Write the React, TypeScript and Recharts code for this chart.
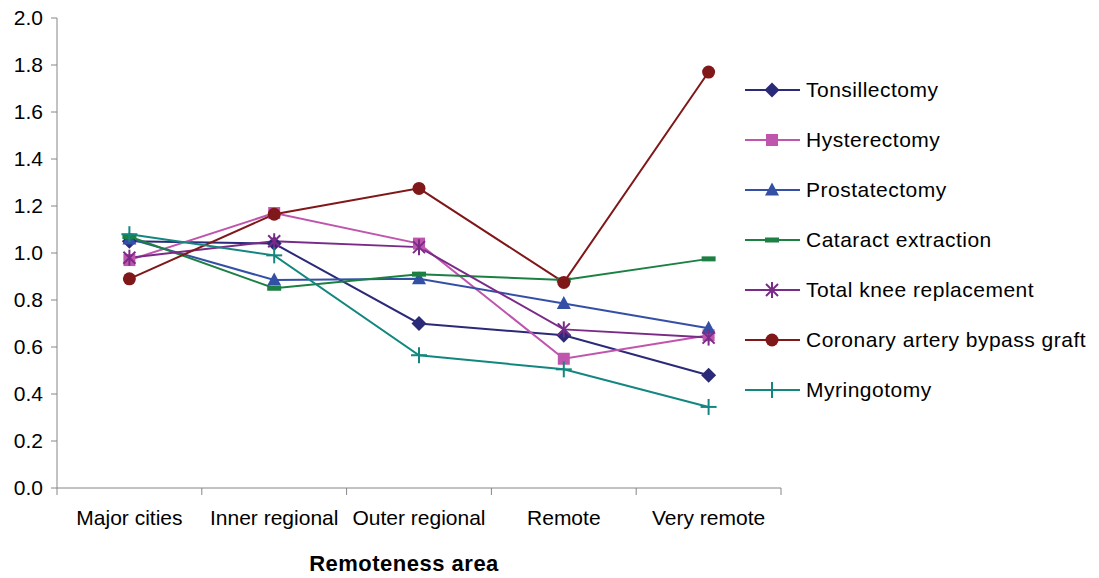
import React from "react";
import { LineChart, Line, XAxis, YAxis } from "recharts";

const categories = ["Major cities", "Inner regional", "Outer regional", "Remote", "Very remote"];
const yTicks = [0, 0.2, 0.4, 0.6, 0.8, 1.0, 1.2, 1.4, 1.6, 1.8, 2.0];

const tonsillectomy = [1.05, 1.04, 0.70, 0.65, 0.48];
const hysterectomy = [0.97, 1.17, 1.04, 0.55, 0.65];
const prostatectomy = [1.06, 0.885, 0.89, 0.785, 0.68];
const cataract = [1.07, 0.85, 0.91, 0.885, 0.975];
const totalKnee = [0.98, 1.05, 1.025, 0.675, 0.64];
const cabg = [0.89, 1.165, 1.275, 0.875, 1.77];
const myringotomy = [1.08, 0.99, 0.565, 0.505, 0.345];

type Shape = "diamond" | "square" | "triangle" | "dash" | "star" | "circle" | "plus";

const series: { key: string; name: string; color: string; shape: Shape; values: number[] }[] = [
  { key: "tonsillectomy", name: "Tonsillectomy", color: "#2B2A78", shape: "diamond", values: tonsillectomy },
  { key: "hysterectomy", name: "Hysterectomy", color: "#C055AE", shape: "square", values: hysterectomy },
  { key: "prostatectomy", name: "Prostatectomy", color: "#3350A6", shape: "triangle", values: prostatectomy },
  { key: "cataract", name: "Cataract extraction", color: "#1C8043", shape: "dash", values: cataract },
  { key: "totalKnee", name: "Total knee replacement", color: "#7A2B88", shape: "star", values: totalKnee },
  { key: "cabg", name: "Coronary artery bypass graft", color: "#801719", shape: "circle", values: cabg },
  { key: "myringotomy", name: "Myringotomy", color: "#13877F", shape: "plus", values: myringotomy },
];

const data = categories.map((name, i) => {
  const row: Record<string, number | string> = { x: i + 0.5, name };
  series.forEach((s) => {
    row[s.key] = s.values[i];
  });
  return row;
});

const FONT = "'Liberation Sans', Arial, sans-serif";
const AXIS = "#868686";
const CHART_W = 1099;
const MARGIN = { top: 18, right: 318, bottom: 0, left: 0 };
const Y_W = 57;
const BAND = (CHART_W - MARGIN.left - MARGIN.right - Y_W) / categories.length;

function Marker({ shape, color, cx, cy }: { shape: Shape; color: string; cx: number; cy: number }) {
  switch (shape) {
    case "diamond":
      return <polygon points={`${cx},${cy - 7.5} ${cx + 7.5},${cy} ${cx},${cy + 7.5} ${cx - 7.5},${cy}`} fill={color} />;
    case "square":
      return <rect x={cx - 6} y={cy - 6} width={12} height={12} fill={color} />;
    case "triangle":
      return <polygon points={`${cx},${cy - 7.5} ${cx + 7},${cy + 5.5} ${cx - 7},${cy + 5.5}`} fill={color} />;
    case "dash":
      return <rect x={cx - 7} y={cy - 2.5} width={14} height={5} fill={color} />;
    case "star":
      return (
        <g stroke={color} strokeWidth={2}>
          <line x1={cx - 6} y1={cy - 6} x2={cx + 6} y2={cy + 6} />
          <line x1={cx - 6} y1={cy + 6} x2={cx + 6} y2={cy - 6} />
          <line x1={cx} y1={cy - 8} x2={cx} y2={cy + 8} />
        </g>
      );
    case "circle":
      return <circle cx={cx} cy={cy} r={6.5} fill={color} />;
    case "plus":
      return (
        <g stroke={color} strokeWidth={2}>
          <line x1={cx - 8} y1={cy} x2={cx + 8} y2={cy} />
          <line x1={cx} y1={cy - 8} x2={cx} y2={cy + 8} />
        </g>
      );
  }
  return null;
}

// category label in the middle, tick marks on the band edges
function CategoryTick(props: any) {
  const { x, y, payload, index } = props;
  const left = x - BAND / 2;
  const right = x + BAND / 2;
  return (
    <g>
      <line x1={left} y1={y} x2={left} y2={y + 7} stroke={AXIS} />
      {index === categories.length - 1 && <line x1={right} y1={y} x2={right} y2={y + 7} stroke={AXIS} />}
      <text x={x} y={y + 37} textAnchor="middle" fill="#000" fontSize={21} fontFamily={FONT}>
        {categories[Math.floor(payload.value)]}
      </text>
    </g>
  );
}

export default function App() {
  return (
    <div style={{ position: "absolute", left: 0, top: 0, width: 1099, height: 578, background: "#fff", fontFamily: FONT }}>
      <LineChart width={CHART_W} height={578} data={data} margin={MARGIN}>
        <YAxis
          type="number"
          domain={[0, 2]}
          ticks={yTicks}
          interval={0}
          width={Y_W}
          stroke={AXIS}
          tickSize={6}
          tickMargin={8}
          tick={{ fill: "#000", fontSize: 21, fontFamily: FONT }}
          tickFormatter={(v: number) => v.toFixed(1)}
        />
        <XAxis
          dataKey="x"
          type="number"
          domain={[0, 5]}
          ticks={[0.5, 1.5, 2.5, 3.5, 4.5]}
          interval={0}
          height={90}
          stroke={AXIS}
          tickLine={false}
          tickSize={0}
          tickMargin={0}
          tick={<CategoryTick />}
        />
        {series.map((s) => (
          <Line
            key={s.key}
            dataKey={s.key}
            name={s.name}
            stroke={s.color}
            strokeWidth={2}
            isAnimationActive={false}
            dot={(p: any) => <Marker key={`${s.key}-${p.index}`} shape={s.shape} color={s.color} cx={p.cx} cy={p.cy} />}
            activeDot={false}
          />
        ))}
      </LineChart>
      <div
        style={{
          position: "absolute",
          left: 254,
          top: 552,
          width: 300,
          textAlign: "center",
          fontWeight: "bold",
          fontSize: 22,
          letterSpacing: 0.5,
          lineHeight: "24px",
          color: "#000",
        }}
      >
        Remoteness area
      </div>
      <div style={{ position: "absolute", left: 745, top: 65 }}>
        {series.map((s) => (
          <div key={s.key} style={{ height: 50, display: "flex", alignItems: "center" }}>
            <svg width={56} height={20} style={{ display: "block" }}>
              <line x1={0} y1={10} x2={55} y2={10} stroke={s.color} strokeWidth={2} />
              <Marker shape={s.shape} color={s.color} cx={27} cy={10} />
            </svg>
            <span style={{ marginLeft: 5, fontSize: 21, letterSpacing: 0.5, color: "#000", whiteSpace: "nowrap" }}>
              {s.name}
            </span>
          </div>
        ))}
      </div>
    </div>
  );
}
